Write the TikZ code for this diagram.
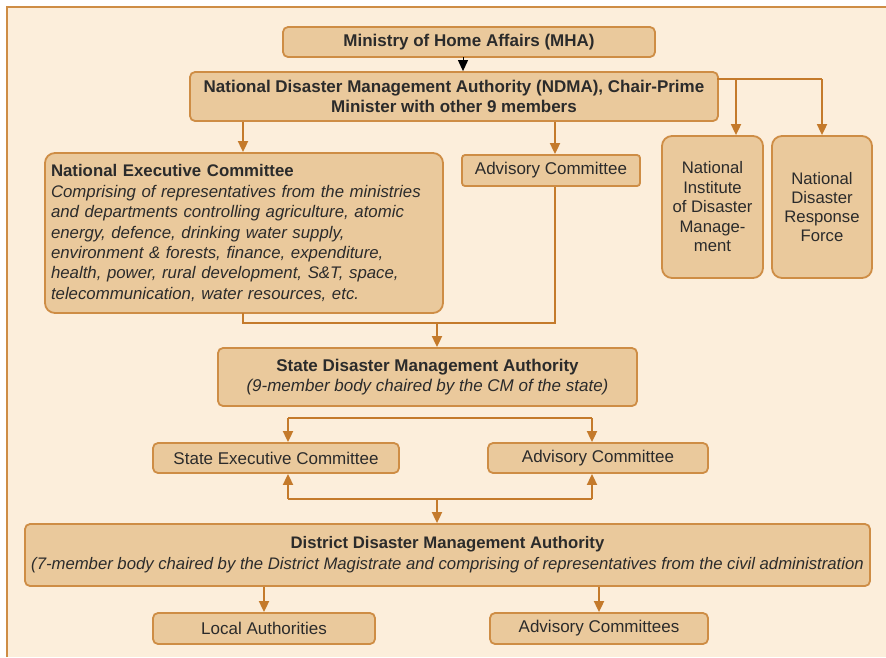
\documentclass[tikz,border=0pt]{standalone}
\usepackage{fontspec}
\setmainfont{Liberation Sans}
\usetikzlibrary{arrows.meta}
\definecolor{bgcream}{HTML}{FCEEDB}
\definecolor{boxfill}{HTML}{EAC99C}
\definecolor{boxline}{HTML}{CE8D45}
\definecolor{arrowc}{HTML}{C47A2B}
\definecolor{txt}{HTML}{2B2B2B}
\tikzset{
  orgbox/.style={draw=boxline, line width=1.8pt, fill=boxfill, rounded corners=5pt, text=txt, inner sep=0pt, align=center},
  conn/.style={draw=arrowc, line width=1.8pt},
  arr/.style={conn, -{Triangle[width=10pt,length=11pt]}},
  blackarr/.style={draw=black, line width=1pt, -{Triangle[width=10pt,length=11pt]}},
  bigfont/.style={font=\fontsize{17}{20}\selectfont},
}
\begin{document}
\begin{tikzpicture}[x=1pt,y=-1pt]
\useasboundingbox (0,0) rectangle (886,657);
\fill[white] (0,0) rectangle (886,657);
\fill[bgcream] (7,7) rectangle (886,657);
\draw[boxline, line width=2pt] (7,657) -- (7,7) -- (886,7);

% nodes
\node[orgbox, minimum width=372pt, minimum height=30pt, font=\fontsize{17}{20}\selectfont\bfseries] (mha) at (469,42) {Ministry of Home Affairs (MHA)};
\node[orgbox, minimum width=528pt, minimum height=49pt, font=\fontsize{17}{20}\selectfont\bfseries] (ndma) at (454,96.5) {National Disaster Management Authority (NDMA), Chair-Prime\\Minister with other 9 members};
\node[orgbox, rounded corners=10pt, minimum width=398pt, minimum height=160pt, align=left, text width=386pt, font=\fontsize{16.8}{20.4}\selectfont] (nec) at (244,233) {\textbf{National Executive Committee}\\\itshape Comprising of representatives from the ministries\\\itshape and departments controlling agriculture, atomic\\\itshape energy, defence, drinking water supply,\\\itshape environment \& forests, finance, expenditure,\\\itshape health, power, rural development, S\&T, space,\\\itshape telecommunication, water resources, etc.};
\node[orgbox, rounded corners=3pt, minimum width=178pt, minimum height=31pt, font=\fontsize{17}{20}\selectfont] (adv1) at (551,170.5) {Advisory Committee};
\node[orgbox, rounded corners=10pt, minimum width=101pt, minimum height=142pt, font=\fontsize{16.7}{19.5}\selectfont] (nidm) at (712.5,207) {National\\Institute\\of Disaster\\Manage-\\ment};
\node[orgbox, rounded corners=10pt, minimum width=100pt, minimum height=142pt, font=\fontsize{16.7}{19}\selectfont] (ndrf) at (822,207) {National\\Disaster\\Response\\Force};
\node[orgbox, minimum width=419pt, minimum height=58pt, font=\fontsize{17}{20}\selectfont] (sdma) at (427.5,377) {\textbf{State Disaster Management Authority}\\\itshape (9-member body chaired by the CM of the state)};
\node[orgbox, minimum width=246pt, minimum height=30pt, font=\fontsize{17}{20}\selectfont] (sec) at (276,458) {State Executive Committee};
\node[orgbox, minimum width=220pt, minimum height=30pt, font=\fontsize{17}{20}\selectfont] (adv2) at (598,458) {Advisory Committee};
\node[orgbox, minimum width=845pt, minimum height=62pt, font=\fontsize{16.7}{21}\selectfont] (ddma) at (447.5,555) {\textbf{District Disaster Management Authority}\\\itshape (7-member body chaired by the District Magistrate and comprising of representatives from the civil administration};
\node[orgbox, minimum width=222pt, minimum height=31pt, font=\fontsize{17}{20}\selectfont] (local) at (264,628.5) {Local Authorities};
\node[orgbox, minimum width=218pt, minimum height=31pt, font=\fontsize{17}{20}\selectfont] (advs) at (599,628.5) {Advisory Committees};

% named coordinates for junctions
\coordinate (mhaout) at (463,57);
\coordinate (ndmaR) at (717,79);
\coordinate (nidmin) at (736,79);
\coordinate (necout) at (243,313);
\coordinate (jnA) at (243,323);
\coordinate (jnB) at (555,323);
\coordinate (jnM) at (437,323);
\coordinate (sL) at (288,418);
\coordinate (sR) at (592,418);
\coordinate (bL) at (288,499);
\coordinate (bR) at (592,499);
\coordinate (bM) at (437,499);

% connectors
\draw[blackarr] (mhaout) -- (mhaout |- ndma.north);
\draw[arr] (ndma.south -| necout) -- (nec.north -| necout);
\draw[arr] (ndma.south -| jnB) -- (adv1.north -| jnB);
\draw[conn] (ndmaR) -- (ndmaR -| ndrf.north);
\draw[arr] (nidmin) -- (nidmin |- nidm.north);
\draw[arr] (ndmaR -| ndrf.north) -- (ndrf.north);
\draw[conn] (necout) -- (jnA) -- (jnB) -- (adv1.south -| jnB);
\draw[arr] (jnM) -- (jnM |- sdma.north);
\draw[conn] (sL) -- (sR);
\draw[arr] (sL) -- (sL |- sec.north);
\draw[arr] (sR) -- (sR |- adv2.north);
\draw[conn] (bL) -- (bR);
\draw[arr] (bL) -- (bL |- sec.south);
\draw[arr] (bR) -- (bR |- adv2.south);
\draw[arr] (bM) -- (bM |- ddma.north);
\draw[arr] (ddma.south -| local.north) -- (local.north);
\draw[arr] (ddma.south -| advs.north) -- (advs.north);
\end{tikzpicture}
\end{document}
